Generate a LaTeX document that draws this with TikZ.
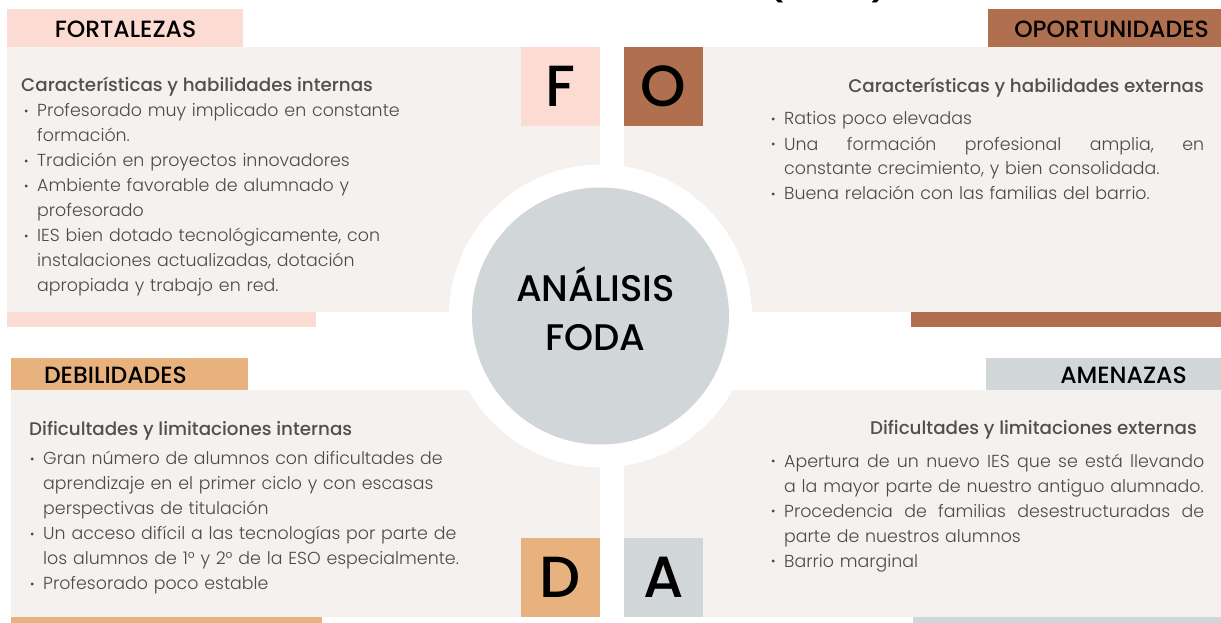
\documentclass[tikz,border=0pt]{standalone}
\usepackage{fontspec}
\setmainfont{Poppins}
\newfontfamily\lightf{Poppins Light}
\newfontfamily\medf{Poppins Medium}
\definecolor{panelc}{HTML}{F5F1EE}
\definecolor{pinkc}{HTML}{FBDBD2}
\definecolor{brownc}{HTML}{B0704F}
\definecolor{orangec}{HTML}{E8B27E}
\definecolor{greyc}{HTML}{D1D6D9}
\definecolor{bodyc}{HTML}{4A4A4A}
\definecolor{headc}{HTML}{505050}
\newcommand\bdot{\makebox[13pt][l]{\raisebox{1.5pt}{\fontsize{12}{12}\selectfont\textbullet}}}
\newcommand\hng{\hspace*{13pt}}
\newcommand\jline[1]{\hbox to 420pt{#1}}
\tikzset{
  labeltext/.style={font=\fontsize{23.5}{23.5}\medf, text=black, inner sep=0pt},
  letterbox/.style={minimum width=79pt, minimum height=79pt, inner sep=0pt, font=\fontsize{58}{58}\medf, text=black},
  subhead/.style={font=\fontsize{18.3}{25}\medf, text=headc, inner sep=0pt},
  bodytext/.style={font=\fontsize{17.4}{25}\lightf, text=bodyc, inner sep=0pt, anchor=base west, text width=480pt, align=left},
}
\begin{document}
\begin{tikzpicture}[x=1pt,y=-1pt]
\useasboundingbox (0,0) rectangle (1221,623);
\fill[white] (0,0) rectangle (1221,623);
% title remnant
\node[anchor=south, inner sep=0pt, font=\fontsize{40}{40}\medf] (tparl) at (775,3) {(};
\node[anchor=south, inner sep=0pt, font=\fontsize{40}{40}\medf] (tparr) at (880,3) {)};
% panels
\fill[panelc] (7,47) rectangle (600,312);
\fill[panelc] (624,47) rectangle (1221,312);
\fill[panelc] (11,390) rectangle (600,617);
\fill[panelc] (624,390) rectangle (1221,617);
% bars
\fill[pinkc] (7,312) rectangle (316,327);
\fill[brownc] (911,312) rectangle (1221,327);
\fill[orangec] (11,617) rectangle (322,630);
\fill[greyc] (913,617) rectangle (1221,630);
% label boxes
\fill[pinkc] (7,9) rectangle (243,47);
\fill[brownc] (988,9) rectangle (1235,47);
\fill[orangec] (11,358) rectangle (248,390);
\fill[greyc] (986,358) rectangle (1235,390);
\node[labeltext] (lf) at (125.5,29) {FORTALEZAS};
\node[labeltext] (lo) at (1111.5,29) {OPORTUNIDADES};
\node[labeltext] (ld) at (115.5,375) {DEBILIDADES};
\node[labeltext] (la) at (1123.5,375) {AMENAZAS};
% letter squares
\node[letterbox, fill=pinkc] (F) at (560.5,86.5) {F};
\node[letterbox, fill=brownc] (O) at (663.5,86.5) {O};
\node[letterbox, fill=orangec] (D) at (560.5,577.5) {D};
\node[letterbox, fill=greyc] (A) at (663.5,577.5) {A};
% centre
\fill[white] (600.5,316) circle (151.5);
\node[circle, fill=greyc, minimum size=257pt, inner sep=0pt] (c) at (600.5,316) {};
\node[align=center, font=\fontsize{37}{49}\medf, text=black, inner sep=0pt] (ct) at (595.5,308.5) {ANÁLISIS\\FODA};
% top-left
\node[subhead, anchor=base west] (hf) at (21,91.7) {Características y habilidades internas};
\node[bodytext] (bf) at (24,116.7) {\bdot Profesorado muy implicado en constante\\
\hng formación.\\
\bdot Tradición en proyectos innovadores\\
\bdot Ambiente favorable de alumnado y\\
\hng profesorado\\
\bdot IES bien dotado tecnológicamente, con\\
\hng instalaciones actualizadas, dotación\\
\hng apropiada y trabajo en red.};
% top-right
\node[subhead, anchor=base east] (ho) at (1204,93) {Características y habilidades externas};
\node[bodytext] (bo) at (771,125) {\bdot Ratios poco elevadas\\
\bdot \jline{Una\hfill formación\hfill profesional\hfill amplia,\hfill en}\\
\hng constante crecimiento, y bien consolidada.\\
\bdot Buena relación con las familias del barrio.};
% bottom-left
\node[subhead, anchor=base west] (hd) at (29,435) {Dificultades y limitaciones internas};
\node[bodytext] (bd) at (30,464.5) {\bdot Gran número de alumnos con dificultades de\\
\hng aprendizaje en el primer ciclo y con escasas\\
\hng perspectivas de titulación\\
\bdot Un acceso difícil a las tecnologías por parte de\\
\hng los alumnos de 1° y 2° de la ESO especialmente.\\
\bdot Profesorado poco estable};
% bottom-right
\node[subhead, anchor=base east] (ha) at (1197,434) {Dificultades y limitaciones externas};
\node[bodytext] (ba) at (771,467) {\bdot \jline{Apertura\hfill de\hfill un\hfill nuevo\hfill IES\hfill que\hfill se\hfill está\hfill llevando}\\
\hng a la mayor parte de nuestro antiguo alumnado.\\
\bdot \jline{Procedencia\hfill de\hfill familias\hfill desestructuradas\hfill de}\\
\hng parte de nuestros alumnos\\
\bdot Barrio marginal};
\end{tikzpicture}
\end{document}
